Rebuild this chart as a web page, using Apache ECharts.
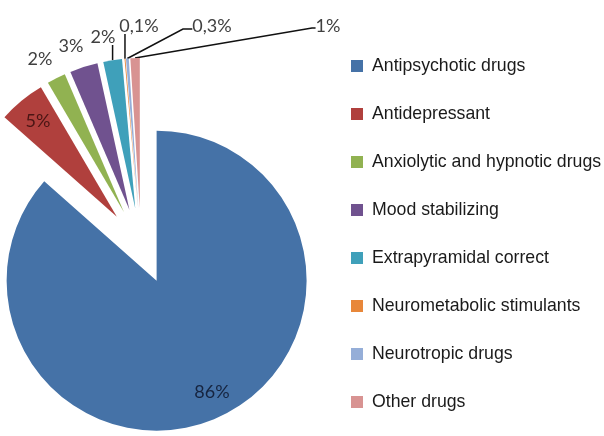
<!DOCTYPE html>
<html>
<head>
<meta charset="utf-8">
<title>Drug groups</title>
<script src="https://cdn.jsdelivr.net/npm/echarts@6/dist/echarts.min.js"></script>
<style>
  html, body { margin: 0; padding: 0; background: #ffffff; }
  #chart { width: 604px; height: 436px; }
</style>
</head>
<body>
<div id="chart"></div>
<script>
// Drug groups and their share of prescriptions (%)
const categories = [
  'Antipsychotic drugs',
  'Antidepressant',
  'Anxiolytic and hypnotic drugs',
  'Mood stabilizing',
  'Extrapyramidal correct',
  'Neurometabolic stimulants',
  'Neurotropic drugs',
  'Other drugs'
];
const shares = [86, 5, 2, 3, 2, 0.1, 0.3, 1];
const colors = ['#4572a7', '#b0403d', '#91b251', '#70528f', '#3fa0ba', '#e8873a', '#95aed8', '#d89392'];

// Layout: every slice is pulled out of the pie by the same distance
const PIE_CENTER = [141, 246];
const PIE_RADIUS = 150;
const EXPLODE = 38;
// centre of each percentage text
const labelSpots = [[212, 392], [38, 121], [40, 59], [71, 46], [103, 37], [139, 26], [212, 26], [328, 26]];
// slices whose labels get a straight vertical leader
const verticalLeaders = [4, 5];
// bend points for the slanted leaders
const leaderBends = { 6: [183, 29], 7: [312, 28] };

const formatShare = v => String(v).replace('.', ',') + '%';

const chart = echarts.init(document.getElementById('chart'), null, { renderer: 'canvas' });

const sliceData = categories.map((name, i) => ({
  name: name,
  value: shares[i],
  selected: true,
  itemStyle: { color: colors[i] }
}));

// an invisible twin of the pie that carries the percentage labels
const labelData = categories.map((name, i) => ({
  name: name,
  value: shares[i],
  itemStyle: { color: 'rgba(0,0,0,0)' },
  label: { color: i === 0 ? '#16243f' : (i === 1 ? '#4a1514' : '#404040') },
  labelLine: { show: i >= 4 }
}));

chart.setOption({
  animation: false,
  legend: {
    orient: 'vertical',
    left: 351,
    top: 56,
    padding: 0,
    icon: 'rect',
    itemWidth: 12,
    itemHeight: 12,
    itemGap: 28,
    selectedMode: false,
    textStyle: {
      fontFamily: 'Liberation Sans',
      fontSize: 17.7,
      lineHeight: 20,
      color: '#1a1a1a',
      padding: [0, 0, 0, 4]
    },
    data: categories
  },
  series: [{
    type: 'pie',
    center: PIE_CENTER,
    radius: PIE_RADIUS,
    startAngle: 90,
    clockwise: true,
    selectedMode: 'multiple',
    selectedOffset: EXPLODE,
    emphasis: { disabled: true },
    itemStyle: { borderWidth: 0 },
    label: { show: false },
    labelLine: { show: false },
    data: sliceData
  }, {
    type: 'pie',
    center: PIE_CENTER,
    radius: PIE_RADIUS,
    startAngle: 90,
    clockwise: true,
    silent: true,
    legendHoverLink: false,
    avoidLabelOverlap: false,
    emphasis: { disabled: true },
    label: {
      show: true,
      position: 'outside',
      fontFamily: 'Lato',
      fontSize: 18,
      formatter: p => formatShare(p.value)
    },
    labelLine: {
      length: 10,
      length2: 10,
      lineStyle: { color: '#111111', width: 1.5 }
    },
    labelLayout: function (params) {
      const i = params.dataIndex;
      const spot = labelSpots[i];
      const out = { x: spot[0], y: spot[1], align: 'center', verticalAlign: 'middle' };
      if (i >= 4 && params.labelLinePoints) {
        // start the leader on the rim of the pulled-out slice
        const a = params.labelLinePoints[0];
        const vx = a[0] - PIE_CENTER[0], vy = a[1] - PIE_CENTER[1];
        const len = Math.hypot(vx, vy);
        const start = [a[0] + vx / len * EXPLODE, a[1] + vy / len * EXPLODE];
        const bottom = spot[1] + params.labelRect.height / 2 - 1;
        if (verticalLeaders.indexOf(i) >= 0) {
          out.labelLinePoints = [start, [start[0], (start[1] + bottom) / 2], [start[0], bottom]];
        } else {
          const b = leaderBends[i];
          out.labelLinePoints = [start, b, [spot[0] - params.labelRect.width / 2, b[1]]];
        }
      }
      return out;
    },
    data: labelData
  }]
});
</script>
</body>
</html>
